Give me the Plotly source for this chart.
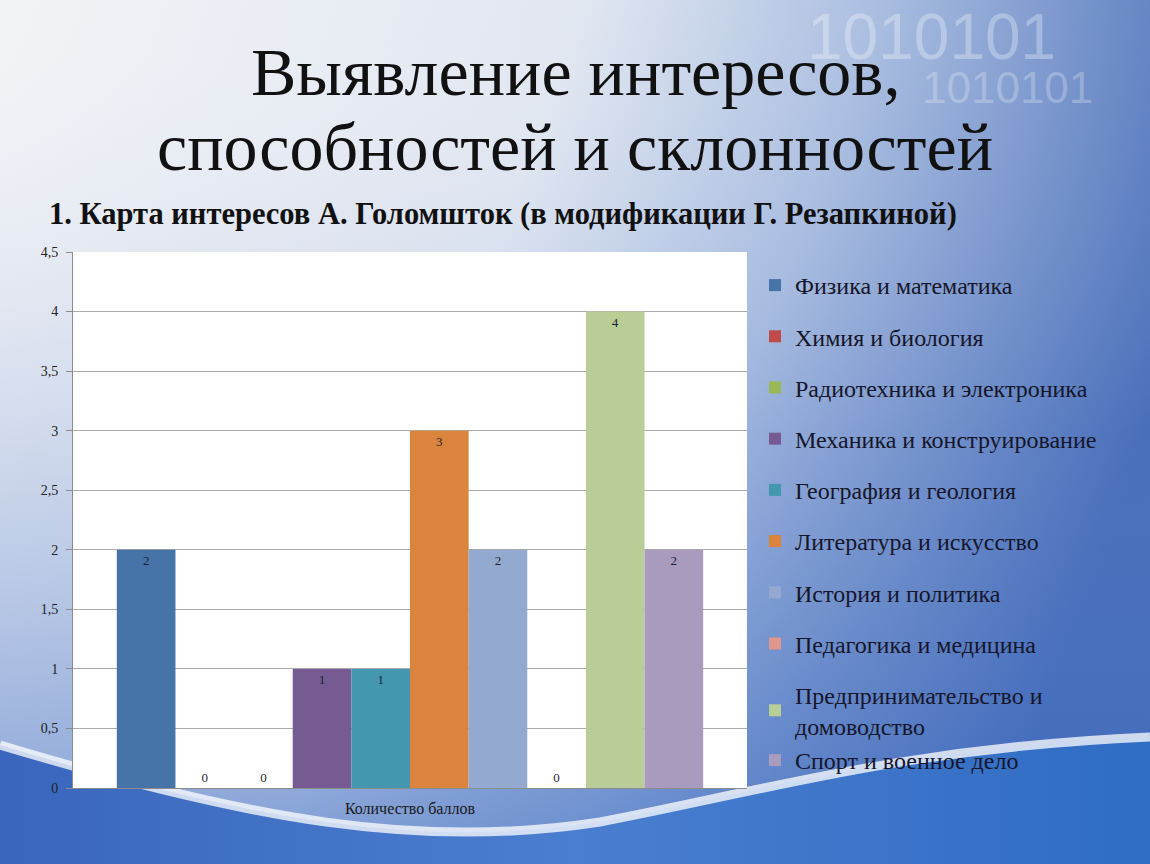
import base64
import plotly.graph_objects as go

# ---------------- data ----------------
categories = ["Количество баллов"]
series_names = [
    "Физика и математика",
    "Химия и биология",
    "Радиотехника и электроника",
    "Механика и конструирование",
    "География и геология",
    "Литература и искусство",
    "История и политика",
    "Педагогика и медицина",
    "Предпринимательство и<br>домоводство",
    "Спорт и военное дело",
]
values = [2, 0, 0, 1, 1, 3, 2, 0, 4, 2]
colors = ["#4673A8", "#BE4B48", "#98B954", "#765A92", "#4398AF",
          "#DB843D", "#93A9CF", "#E0958D", "#B9CD96", "#A99BBD"]
y_ticks = [0, 0.5, 1, 1.5, 2, 2.5, 3, 3.5, 4, 4.5]

title_lines = ["Выявление интересов,", "способностей и склонностей"]
subtitle = "1. Карта интересов А. Голомшток (в модификации Г. Резапкиной)"

SERIF = "Liberation Serif"
LABEL_COLOR = "#1f1f33"

# ---------------- background (decorative) ----------------
svg = """<svg xmlns='http://www.w3.org/2000/svg' width='1150' height='864' viewBox='0 0 1150 864' preserveAspectRatio='none'>
<defs>
<linearGradient id='bg' x1='0' y1='0' x2='1150' y2='420' gradientUnits='userSpaceOnUse'>
<stop offset='0' stop-color='#f2f3f6'/>
<stop offset='0.45' stop-color='#e1e7f1'/>
<stop offset='0.68' stop-color='#a9bde0'/>
<stop offset='1' stop-color='#3f66b4'/>
</linearGradient>
<linearGradient id='vb' x1='0' y1='0' x2='0' y2='864' gradientUnits='userSpaceOnUse'>
<stop offset='0' stop-color='#ffffff' stop-opacity='0'/>
<stop offset='0.5' stop-color='#6f8fd0' stop-opacity='0.22'/>
<stop offset='1' stop-color='#3d6cc2' stop-opacity='0.6'/>
</linearGradient>
<linearGradient id='wave' x1='0' y1='0' x2='1150' y2='0' gradientUnits='userSpaceOnUse'>
<stop offset='0' stop-color='#3a66bd'/>
<stop offset='0.5' stop-color='#4a7ecf'/>
<stop offset='1' stop-color='#2f6cc4'/>
</linearGradient>
</defs>
<rect width='1150' height='864' fill='url(#bg)'/>
<rect width='1150' height='864' fill='url(#vb)'/>
<path d='M0,745 C250,820 420,850 600,822 C760,792 900,748 1150,737 L1150,864 L0,864 Z' fill='url(#wave)'/>
<path d='M0,745 C250,820 420,850 600,822 C760,792 900,748 1150,737' fill='none' stroke='#ffffff' stroke-opacity='0.75' stroke-width='9'/>
</svg>"""
bg_uri = "data:image/svg+xml;base64," + base64.b64encode(svg.encode("utf-8")).decode("ascii")

# ---------------- figure ----------------
fig = go.Figure()
for i, (name, val, col) in enumerate(zip(series_names, values, colors)):
    fig.add_trace(go.Bar(
        x=categories, y=[val], name=name,
        marker=dict(color=col, line=dict(width=0)),
        text=[str(val)],
        textposition="inside" if val > 0 else "outside",
        insidetextanchor="end",
        textfont=dict(family=SERIF, size=13, color=LABEL_COLOR),
        insidetextfont=dict(family=SERIF, size=13, color=LABEL_COLOR),
        outsidetextfont=dict(family=SERIF, size=13, color=LABEL_COLOR),
        cliponaxis=False,
        legendgroup="g8" if i >= 8 else f"g{i}",
    ))

W, H = 1150, 864
L, R, T, B = 73, 747, 252, 788
pw, ph = R - L, B - T


def px_x(x):
    return (x - L) / pw


def px_y(y):
    return (B - y) / ph


fig.update_layout(
    width=W, height=H, autosize=False,
    margin=dict(l=L, r=W - R, t=T, b=H - B, pad=0),
    paper_bgcolor="#dfe5f0",
    plot_bgcolor="rgba(0,0,0,0)",
    separators=", ",
    barmode="group", bargap=0.13, bargroupgap=0,
    showlegend=True,
    legend=dict(
        x=px_x(755), y=px_y(263), xanchor="left", yanchor="top",
        font=dict(family=SERIF, size=24, color="#16162a"),
        bgcolor="rgba(0,0,0,0)", tracegroupgap=17, itemwidth=30,
        traceorder="grouped", maxheight=800,
    ),
    xaxis=dict(
        showline=True, linecolor="#8c8c8c", linewidth=1,
        ticks="", showgrid=False,
        tickfont=dict(family=SERIF, size=16, color="#1a1a1a"),
        ticklabelstandoff=6,
    ),
    yaxis=dict(
        range=[0, 4.5], tickmode="array", tickvals=y_ticks,
        showgrid=True, gridcolor="#ababab", gridwidth=1,
        showline=True, linecolor="#8c8c8c", linewidth=1,
        ticks="outside", ticklen=6, tickcolor="#8c8c8c",
        tickfont=dict(family=SERIF, size=14, color="#222222"),
        ticklabelstandoff=5,
        zeroline=False,
    ),
    images=[dict(
        source=bg_uri, xref="paper", yref="paper",
        x=px_x(0), y=px_y(0), sizex=W / pw, sizey=H / ph,
        xanchor="left", yanchor="top", sizing="stretch", layer="below",
    )],
    shapes=[dict(
        type="rect", xref="paper", yref="paper", x0=0, x1=1, y0=0, y1=1,
        fillcolor="white", line=dict(width=0), layer="below",
    )],
)

annotations = [
    dict(text="1010101", x=px_x(805), y=px_y(37), xanchor="left", yanchor="middle",
         font=dict(family="Liberation Sans", size=64, color="rgba(255,255,255,0.3)")),
    dict(text="1010101", x=px_x(920), y=px_y(88), xanchor="left", yanchor="middle",
         font=dict(family="Liberation Sans", size=44, color="rgba(255,255,255,0.25)")),
    dict(text=title_lines[0], x=px_x(575), y=px_y(72), xanchor="center", yanchor="middle",
         font=dict(family=SERIF, size=68, color="#111111")),
    dict(text=title_lines[1], x=px_x(575), y=px_y(147), xanchor="center", yanchor="middle",
         font=dict(family=SERIF, size=68, color="#111111")),
    dict(text="<b>" + subtitle + "</b>", x=px_x(47), y=px_y(214), xanchor="left", yanchor="middle",
         font=dict(family=SERIF, size=30.5, color="#111111")),
]
for a in annotations:
    a.update(xref="paper", yref="paper", showarrow=False)
fig.update_layout(annotations=annotations)

fig.write_html(
    "out.html",
    config={"displayModeBar": False},
    post_script="document.body.style.margin='0';document.body.style.overflow='hidden';",
)
